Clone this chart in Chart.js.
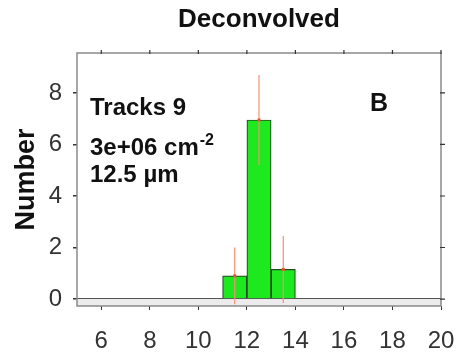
<!DOCTYPE html>
<html>
<head>
  <meta charset="UTF-8">
  <title>Deconvolved</title>
  <script src="https://cdn.jsdelivr.net/npm/chart.js"></script>
  <style>
    body {
      margin: 0;
      background: white;
    }
    #chart {
      display: block;
    }
  </style>
</head>
<body>
  <canvas id="chart" width="459" height="358"></canvas>

  <script>
    // histogram bins (bin centres, deconvolved counts, error)
    const binCenters = [11.5, 12.5, 13.5];
    const counts = [0.9, 6.95, 1.15];
    const errors = [1.1, 1.75, 1.3];

    const xTicks = [6, 8, 10, 12, 14, 16, 18, 20];
    const yTicks = [0, 2, 4, 6, 8];

    const titleText = 'Deconvolved';
    const yLabel = 'Number';
    const panelLabel = 'B';
    const infoLines = ['Tracks 9', '3e+06 cm', '12.5 µm'];
    const infoSup = '-2';

    const FONT = "'Liberation Sans', Arial, Helvetica, sans-serif";
    Chart.defaults.font.family = FONT;

    // grey strip under zero line + frame with outer ticks on top/right
    const framePlugin = {
      id: 'frame',
      beforeDatasetsDraw(chart) {
        const { ctx, chartArea, scales } = chart;
        const y0 = scales.y.getPixelForValue(0);
        ctx.save();
        ctx.fillStyle = '#ececec';
        ctx.fillRect(chartArea.left, y0, chartArea.right - chartArea.left, chartArea.bottom - y0);
        ctx.restore();
      },
      afterDraw(chart) {
        const { ctx, chartArea, scales } = chart;
        ctx.save();
        ctx.strokeStyle = '#8a8a8a';
        ctx.lineWidth = 1.5;
        ctx.strokeRect(chartArea.left, chartArea.top, chartArea.right - chartArea.left, chartArea.bottom - chartArea.top);
        ctx.strokeStyle = '#333';
        ctx.lineWidth = 1.2;
        ctx.beginPath();
        xTicks.forEach(v => {
          const x = scales.x.getPixelForValue(v);
          ctx.moveTo(x, chartArea.top - 3);
          ctx.lineTo(x, chartArea.top + 1);
        });
        yTicks.forEach(v => {
          const y = scales.y.getPixelForValue(v);
          ctx.moveTo(chartArea.right - 1, y);
          ctx.lineTo(chartArea.right + 4, y);
        });
        ctx.stroke();
        ctx.restore();
      }
    };

    const errorBarPlugin = {
      id: 'errorBars',
      afterDatasetsDraw(chart) {
        const { ctx, chartArea, scales } = chart;
        ctx.save();
        ctx.beginPath();
        ctx.rect(chartArea.left, chartArea.top, chartArea.right - chartArea.left, chartArea.bottom - chartArea.top);
        ctx.clip();
        binCenters.forEach((c, i) => {
          const x = scales.x.getPixelForValue(c);
          const yLo = scales.y.getPixelForValue(counts[i] - errors[i]);
          const yHi = scales.y.getPixelForValue(counts[i] + errors[i]);
          const yv = scales.y.getPixelForValue(counts[i]);
          ctx.strokeStyle = '#f39073';
          ctx.lineWidth = 1.2;
          ctx.beginPath();
          ctx.moveTo(x, yLo);
          ctx.lineTo(x, yHi);
          ctx.stroke();
          ctx.fillStyle = '#e8532c';
          ctx.fillRect(x - 1.5, yv - 1.5, 3, 3);
        });
        ctx.restore();
      }
    };

    const textPlugin = {
      id: 'infoText',
      afterDraw(chart) {
        const { ctx, chartArea } = chart;
        const left = chartArea.left + 13;
        ctx.save();
        ctx.fillStyle = '#111';
        ctx.textBaseline = 'alphabetic';
        ctx.textAlign = 'left';
        ctx.font = 'bold 24px ' + FONT;
        ctx.fillText(infoLines[0], left, chartArea.top + 62);
        ctx.fillText(infoLines[1], left, chartArea.top + 101.5);
        const w = ctx.measureText(infoLines[1]).width;
        ctx.fillText(infoLines[2], left, chartArea.top + 129);
        ctx.font = 'bold 16px ' + FONT;
        ctx.fillText(infoSup, left + w + 1, chartArea.top + 92);
        ctx.font = 'bold 25px ' + FONT;
        ctx.fillText(panelLabel, chartArea.left + 293, chartArea.top + 58);
        ctx.restore();
      }
    };

    const ctx = document.getElementById('chart').getContext('2d');
    const chart = new Chart(ctx, {
      type: 'bar',
      data: {
        datasets: [{
          data: binCenters.map((x, i) => ({ x: x, y: counts[i] })),
          backgroundColor: '#1ee81e',
          borderColor: '#264a26',
          borderWidth: 1.2,
          barPercentage: 1,
          categoryPercentage: 1
        }]
      },
      options: {
        responsive: false,
        animation: false,
        layout: {
          padding: { left: 0, right: 18, top: 0, bottom: 0 }
        },
        plugins: {
          legend: { display: false },
          tooltip: { enabled: false },
          title: {
            display: true,
            text: titleText,
            fullSize: false,
            color: '#111',
            font: { size: 26, weight: 'bold' },
            padding: { top: 4, bottom: 17.8 }
          }
        },
        scales: {
          x: {
            type: 'linear',
            min: 5,
            max: 20,
            offset: false,
            afterBuildTicks: s => { s.ticks = xTicks.map(v => ({ value: v })); },
            afterFit: s => {
              s.height = 52;
              s.paddingLeft = 0;
              s.paddingRight = 0;
            },
            grid: {
              offset: false,
              drawOnChartArea: false,
              drawTicks: true,
              tickLength: 4,
              tickColor: '#333'
            },
            border: { display: false },
            ticks: {
              color: '#333',
              font: { size: 24 },
              padding: 17,
              maxRotation: 0,
              autoSkip: false
            }
          },
          y: {
            min: -0.27,
            max: 9.55,
            afterBuildTicks: s => { s.ticks = yTicks.map(v => ({ value: v })); },
            afterFit: s => { s.width = 77; },
            grid: {
              color: c => (c.tick && c.tick.value === 0) ? '#555' : 'rgba(0,0,0,0)',
              lineWidth: 1.5,
              drawTicks: true,
              tickLength: 4,
              tickColor: '#333'
            },
            border: { display: false },
            ticks: {
              color: '#333',
              font: { size: 24 },
              padding: 11
            },
            title: {
              display: true,
              text: yLabel,
              color: '#111',
              font: { size: 27, weight: 'bold' },
              padding: { top: 10, bottom: 0 }
            }
          }
        }
      },
      plugins: [framePlugin, errorBarPlugin, textPlugin]
    });
  </script>
</body>
</html>
